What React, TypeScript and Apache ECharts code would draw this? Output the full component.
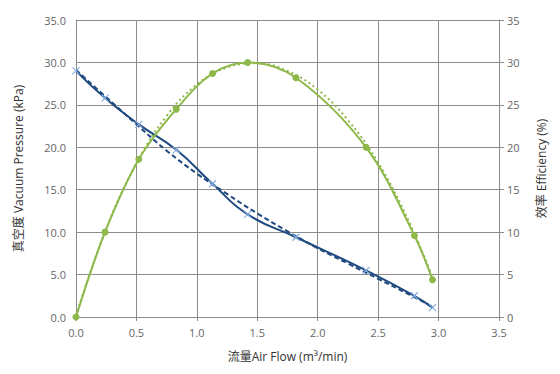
import React, { useEffect, useRef } from "react";
import * as echarts from "echarts";

const flow = [0, 0.24, 0.52, 0.83, 1.13, 1.42, 1.82, 2.4, 2.8, 2.95];
const vacuum = [29.0, 25.8, 22.7, 19.7, 15.7, 12.1, 9.4, 5.5, 2.5, 1.1];
const efficiency = [0, 10.0, 18.6, 24.5, 28.7, 30.0, 28.2, 20.0, 9.6, 4.4];

const trendX = [0, 0.25, 0.5, 0.75, 1.0, 1.25, 1.5, 1.75, 2.0, 2.25, 2.5, 2.75, 2.95];
const vacuumTrend = [29.1, 25.9, 22.7, 19.6, 16.9, 14.5, 12.2, 10.1, 8.1, 6.3, 4.5, 2.7, 1.2];
const efficiencyTrend = [0.2, 10.4, 18.1, 23.7, 27.4, 29.4, 29.9, 29.0, 26.8, 23.2, 18.2, 11.4, 4.7];

const xTicks = [0, 0.5, 1, 1.5, 2, 2.5, 3, 3.5];

const pair = (xs: number[], ys: number[]) => xs.map((x, i) => [x, ys[i]]);

const GREEN = "#8DB84A";
const NAVY = "#1F4A80";
const LIGHTBLUE = "#86AEE0";
const FONT = "'Open Sans', 'Noto Sans CJK SC', sans-serif";

export default function App() {
  const ref = useRef<HTMLDivElement>(null);
  useEffect(() => {
    if (!ref.current) return;
    const chart = echarts.init(ref.current, null, { renderer: "svg" });
    const labelStyle = { color: "#666666", fontSize: 11, fontFamily: FONT };
    chart.setOption({
      animation: false,
      backgroundColor: "#ffffff",
      grid: { left: 76, right: 61, top: 20, bottom: 57 },
      xAxis: {
        type: "value",
        min: xTicks[0],
        max: xTicks[xTicks.length - 1],
        interval: 0.5,
        name: "流量Air Flow (m³/min)",
        nameLocation: "middle",
        nameGap: 33,
        nameTextStyle: { color: "#333", fontSize: 12, fontFamily: FONT },
        axisLine: { show: true, lineStyle: { color: "#8c8c8c" } },
        axisTick: { show: true, length: 4, lineStyle: { color: "#8c8c8c" } },
        axisLabel: { ...labelStyle, margin: 10, formatter: (v: number) => v.toFixed(1) },
        splitLine: { show: true, lineStyle: { color: "#8c8c8c", width: 1 } },
      },
      yAxis: [
        {
          type: "value",
          min: 0,
          max: 35,
          interval: 5,
          name: "真空度 Vacuum Pressure (kPa)",
          nameLocation: "middle",
          nameRotate: 90,
          nameGap: 52,
          nameTextStyle: { color: "#333", fontSize: 12, fontFamily: FONT },
          axisLine: { show: true, lineStyle: { color: "#8c8c8c" } },
          axisTick: { show: false },
          axisLabel: { ...labelStyle, margin: 10, formatter: (v: number) => v.toFixed(1) },
          splitLine: { show: true, lineStyle: { color: "#8c8c8c", width: 1 } },
        },
        {
          type: "value",
          min: 0,
          max: 35,
          interval: 5,
          position: "right",
          name: "效率 Efficiency (%)",
          nameLocation: "middle",
          nameRotate: 90,
          nameGap: 36,
          nameTextStyle: { color: "#333", fontSize: 12, fontFamily: FONT },
          axisLine: { show: true, lineStyle: { color: "#8c8c8c" } },
          axisTick: { show: true, length: 5, inside: false, lineStyle: { color: "#8c8c8c" } },
          axisLabel: { ...labelStyle, margin: 8 },
          splitLine: { show: false },
        },
      ],
      series: [
        {
          name: "vacuum trend",
          type: "line",
          yAxisIndex: 0,
          smooth: 0.4,
          data: pair(trendX, vacuumTrend),
          showSymbol: false,
          lineStyle: { color: NAVY, width: 2, type: [5, 3] },
          z: 2,
        },
        {
          name: "vacuum",
          type: "line",
          yAxisIndex: 0,
          smooth: 0.5,
          data: pair(flow, vacuum),
          symbol: "path://M0,0L10,10M10,0L0,10",
          symbolSize: 7,
          itemStyle: { color: "none", borderColor: LIGHTBLUE, borderWidth: 1.2 },
          lineStyle: { color: NAVY, width: 2 },
          z: 3,
        },
        {
          name: "efficiency trend",
          type: "line",
          yAxisIndex: 1,
          smooth: 0.4,
          data: pair(trendX, efficiencyTrend),
          showSymbol: false,
          lineStyle: { color: GREEN, width: 2, type: [2, 3] },
          z: 2,
        },
        {
          name: "efficiency",
          type: "line",
          yAxisIndex: 1,
          smooth: 0.35,
          data: pair(flow, efficiency),
          symbol: "circle",
          symbolSize: 7,
          itemStyle: { color: GREEN },
          lineStyle: { color: GREEN, width: 2 },
          z: 3,
        },
      ],
    });
    return () => chart.dispose();
  }, []);
  return <div ref={ref} style={{ width: 560, height: 374, margin: -8 }} />;
}
